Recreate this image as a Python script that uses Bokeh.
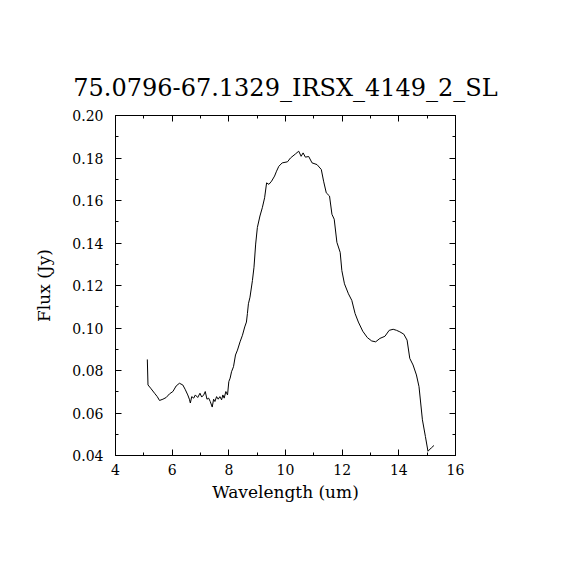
from bokeh.plotting import figure
from bokeh.models import LinearAxis, FixedTicker, PrintfTickFormatter, Range1d
from bokeh.embed import file_html
from bokeh.resources import INLINE

title_text = "75.0796-67.1329_IRSX_4149_2_SL"
x_label = "Wavelength (um)"
y_label = "Flux (Jy)"

wavelength = [
    5.123, 5.147, 5.239, 5.379, 5.474, 5.554, 5.674, 5.789, 5.905, 6.025,
    6.140, 6.256, 6.375, 6.456, 6.551, 6.607, 6.642, 6.691, 6.761, 6.818,
    6.902, 6.982, 7.042, 7.112, 7.168, 7.228, 7.288, 7.344, 7.414, 7.463,
    7.509, 7.568, 7.625, 7.684, 7.744, 7.789, 7.835, 7.895, 7.954, 8.000,
    8.046, 8.095, 8.165, 8.235, 8.305, 8.396, 8.481, 8.561, 8.621, 8.656,
    8.691, 8.747, 8.832, 8.888, 8.947, 9.007, 9.098, 9.182, 9.263, 9.333,
    9.414, 9.509, 9.614, 9.684, 9.765, 9.884, 10.070, 10.175, 10.351, 10.467,
    10.551, 10.621, 10.702, 10.818, 10.937, 11.112, 11.263, 11.344, 11.439, 11.554,
    11.639, 11.719, 11.814, 11.930, 11.989, 12.081, 12.221, 12.340, 12.456, 12.572,
    12.726, 12.888, 13.042, 13.182, 13.333, 13.509, 13.660, 13.800, 13.919, 14.035,
    14.175, 14.291, 14.386, 14.502, 14.621, 14.712, 14.832, 14.937, 15.028, 15.147,
    15.239,
]
flux = [
    0.0852, 0.0732, 0.0717, 0.0693, 0.0677, 0.0659, 0.0665, 0.0673, 0.0690, 0.0701,
    0.0727, 0.0740, 0.0732, 0.0712, 0.0685, 0.0665, 0.0647, 0.0677, 0.0670, 0.0685,
    0.0673, 0.0693, 0.0675, 0.0685, 0.0701, 0.0665, 0.0670, 0.0654, 0.0628, 0.0665,
    0.0654, 0.0677, 0.0665, 0.0677, 0.0662, 0.0685, 0.0670, 0.0701, 0.0685, 0.0748,
    0.0764, 0.0794, 0.0818, 0.0873, 0.0896, 0.0935, 0.0966, 0.1005, 0.1028, 0.1068,
    0.1114, 0.1145, 0.1223, 0.1286, 0.1395, 0.1473, 0.1527, 0.1566, 0.1613, 0.1683,
    0.1676, 0.1691, 0.1715, 0.1738, 0.1761, 0.1777, 0.1782, 0.1800, 0.1819, 0.1832,
    0.1808, 0.1824, 0.1804, 0.1807, 0.1777, 0.1769, 0.1746, 0.1691, 0.1636, 0.1621,
    0.1535, 0.1512, 0.1403, 0.1356, 0.1270, 0.1208, 0.1161, 0.1130, 0.1068, 0.1028,
    0.0985, 0.0955, 0.0939, 0.0935, 0.0951, 0.0961, 0.0989, 0.0994, 0.0989, 0.0982,
    0.0971, 0.0943, 0.0857, 0.0826, 0.0779, 0.0724, 0.0568, 0.0490, 0.0420, 0.0436,
    0.0447,
]

x_ticks = [4, 6, 8, 10, 12, 14, 16]
y_ticks = [0.04, 0.06, 0.08, 0.10, 0.12, 0.14, 0.16, 0.18, 0.20]
x_minor = [5, 7, 9, 11, 13, 15]
y_minor = [0.05, 0.07, 0.09, 0.11, 0.13, 0.15, 0.17, 0.19]

FONT = "DejaVu Serif"

p = figure(
    frame_width=340, frame_height=340,
    min_border_left=115, min_border_right=99,
    min_border_top=115, min_border_bottom=99,
    x_range=Range1d(4, 16), y_range=Range1d(0.04, 0.20),
    output_backend="svg", toolbar_location=None,
    x_axis_location=None, y_axis_location=None,
)
p.background_fill_color = "white"
p.border_fill_color = "white"
p.outline_line_color = "black"
p.outline_line_width = 1
p.xgrid.visible = False
p.ygrid.visible = False

p.title.text = title_text
p.title.align = "center"
p.title.text_font = FONT
p.title.text_font_size = "24px"
p.title.text_font_style = "normal"
p.title.text_color = "black"
p.title.standoff = 28

def style(ax, labels=True):
    ax.axis_line_color = "black"
    ax.major_tick_in = 6
    ax.major_tick_out = 0
    ax.minor_tick_in = 3
    ax.minor_tick_out = 0
    ax.major_tick_line_color = "black"
    ax.minor_tick_line_color = "black"
    ax.major_label_text_font = FONT
    ax.major_label_text_font_size = "14px"
    ax.major_label_text_color = "black"
    ax.axis_label_text_font = FONT
    ax.axis_label_text_font_size = "17px"
    ax.axis_label_text_font_style = "normal"
    ax.axis_label_text_color = "black"
    if not labels:
        ax.major_label_text_font_size = "0px"

xb = LinearAxis(ticker=FixedTicker(ticks=x_ticks, minor_ticks=x_minor), axis_label=x_label)
style(xb)
xb.major_label_standoff = 8
xb.axis_label_standoff = 4
p.add_layout(xb, "below")

yl = LinearAxis(ticker=FixedTicker(ticks=y_ticks, minor_ticks=y_minor), axis_label=y_label,
                formatter=PrintfTickFormatter(format="%.2f"))
style(yl)
yl.major_label_standoff = 12
yl.axis_label_standoff = 15
p.add_layout(yl, "left")

xt = LinearAxis(ticker=FixedTicker(ticks=x_ticks, minor_ticks=x_minor))
style(xt, labels=False)
xt.major_label_overrides = {t: "" for t in x_ticks}
p.add_layout(xt, "above")

yr = LinearAxis(ticker=FixedTicker(ticks=y_ticks, minor_ticks=y_minor))
style(yr, labels=False)
yr.major_label_overrides = {t: "" for t in y_ticks}
p.add_layout(yr, "right")

p.line(wavelength, flux, line_color="black", line_width=1)

open("out.html", "w").write(file_html(p, INLINE))
